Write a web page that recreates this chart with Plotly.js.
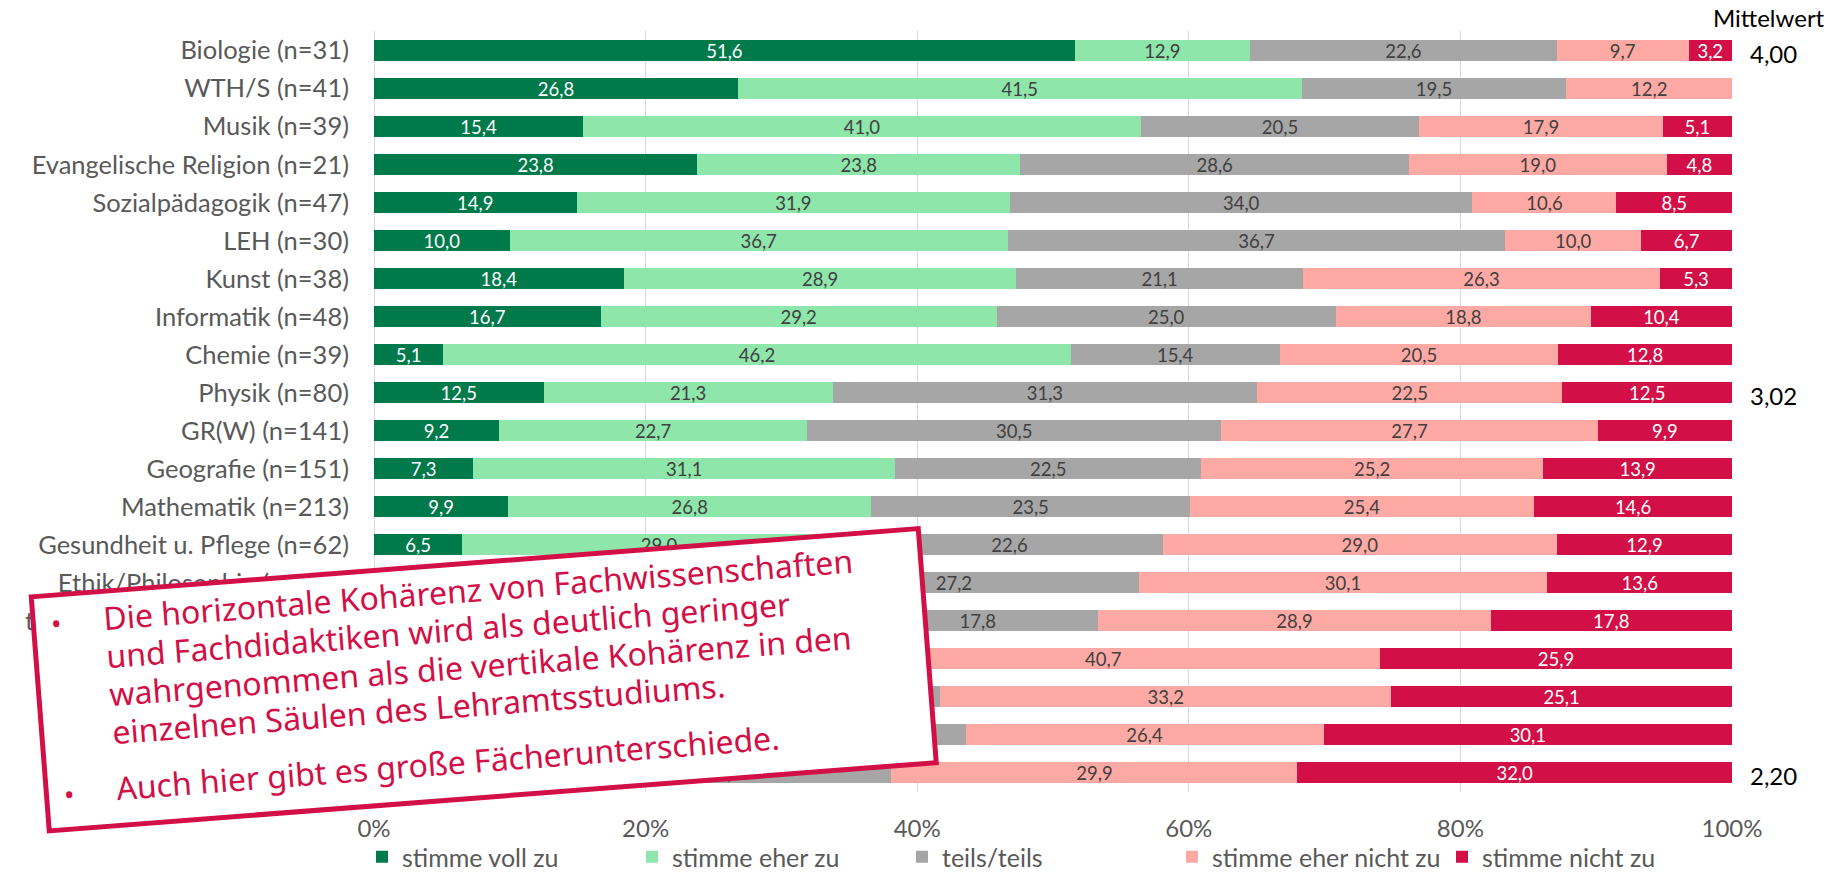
<!DOCTYPE html>
<html>
<head>
<meta charset="utf-8">
<script src="https://cdn.plot.ly/plotly-3.0.1.min.js"></script>
<style>
html,body{margin:0;padding:0;background:#ffffff;}
#chart{width:1839px;height:875px;}
</style>
</head>
<body>
<div id="chart"></div>
<script>
// ---------- data ----------
const categories = [
  "Biologie (n=31)", "WTH/S (n=41)", "Musik (n=39)", "Evangelische Religion (n=21)",
  "Sozialpädagogik (n=47)", "LEH (n=30)", "Kunst (n=38)", "Informatik (n=48)",
  "Chemie (n=39)", "Physik (n=80)", "GR(W) (n=141)", "Geografie (n=151)",
  "Mathematik (n=213)", "Gesundheit u. Pflege (n=62)", "Ethik/Philosophie (n=103)",
  "technisches Gestalten (n=45)", "Russisch (n=27)", "Deutsch (n=187)",
  "Englisch (n=163)", "Geschichte (n=97)"
];
const seriesNames = ["stimme voll zu", "stimme eher zu", "teils/teils", "stimme eher nicht zu", "stimme nicht zu"];
const stimmeVollZu      = [51.6, 26.8, 15.4, 23.8, 14.9, 10.0, 18.4, 16.7,  5.1, 12.5,  9.2,  7.3,  9.9,  6.5,  6.8,  8.9,  3.7,  3.2,  3.1,  0.0];
const stimmeEherZu      = [12.9, 41.5, 41.0, 23.8, 31.9, 36.7, 28.9, 29.2, 46.2, 21.3, 22.7, 31.1, 26.8, 29.0, 22.3, 26.7, 14.8, 16.0, 15.3, 13.4];
const teilsTeils        = [22.6, 19.5, 20.5, 28.6, 34.0, 36.7, 21.1, 25.0, 15.4, 31.3, 30.5, 22.5, 23.5, 22.6, 27.2, 17.8, 14.8, 22.5, 25.2, 24.7];
const stimmeEherNichtZu = [ 9.7, 12.2, 17.9, 19.0, 10.6, 10.0, 26.3, 18.8, 20.5, 22.5, 27.7, 25.2, 25.4, 29.0, 30.1, 28.9, 40.7, 33.2, 26.4, 29.9];
const stimmeNichtZu     = [ 3.2,  0.0,  5.1,  4.8,  8.5,  6.7,  5.3, 10.4, 12.8, 12.5,  9.9, 13.9, 14.6, 12.9, 13.6, 17.8, 25.9, 25.1, 30.1, 32.0];
const meanLabels = ["4,00", "", "", "", "", "", "", "", "", "3,02", "", "", "", "", "", "", "", "", "", "2,20"];
const meanHeader = "Mittelwert";
const xTickVals = [0, 20, 40, 60, 80, 100];
const xTickText = ["0%", "20%", "40%", "60%", "80%", "100%"];
const calloutLines = [
  "Die horizontale Kohärenz von Fachwissenschaften",
  "und Fachdidaktiken wird als deutlich geringer",
  "wahrgenommen als die vertikale Kohärenz in den",
  "einzelnen Säulen des Lehramtsstudiums.",
  "Auch hier gibt es große Fächerunterschiede."
];

// ---------- styles ----------
const seriesValues = [stimmeVollZu, stimmeEherZu, teilsTeils, stimmeEherNichtZu, stimmeNichtZu];
const colors = ["#007A4B", "#8EE6AA", "#A6A6A6", "#FFA9A4", "#D20F46"];
const labelColors = ["#FFFFFF", "#404040", "#404040", "#404040", "#FFFFFF"];
const FONT = "Lato, 'Liberation Sans', sans-serif";
const W = 1839, H = 875;
const M = {l: 374, r: 107, t: 31, b: 83, autoexpand: false};
const PW = W - M.l - M.r, PH = H - M.t - M.b;
const px2x = p => (p - M.l) / PW;
const px2y = p => (H - M.b - p) / PH;

const fmt = v => v > 0 ? v.toFixed(1).replace(".", ",") : "";

const traces = seriesValues.map((vals, i) => ({
  type: "bar",
  orientation: "h",
  name: seriesNames[i],
  y: categories,
  x: vals,
  text: vals.map(fmt),
  texttemplate: "%{text}",
  textposition: "inside",
  insidetextanchor: "middle",
  constraintext: "none",
  textangle: 0,
  textfont: {family: FONT, size: 18.5, color: labelColors[i]},
  marker: {color: colors[i], line: {width: 0}},
  hoverinfo: "skip"
}));

// ---------- callout box geometry (pixels) ----------
const box = {cx: 483.75, cy: 679.75, w: 889.6, h: 234.7, angle: 4.4};
const th = box.angle * Math.PI / 180;
const u = [Math.cos(th), -Math.sin(th)];
const v = [Math.sin(th), Math.cos(th)];
const TL = [box.cx - box.w / 2 * u[0] - box.h / 2 * v[0], box.cy - box.w / 2 * u[1] - box.h / 2 * v[1]];
const loc = (lx, ly) => [TL[0] + lx * u[0] + ly * v[0], TL[1] + lx * u[1] + ly * v[1]];
const corners = [loc(0, 0), loc(box.w, 0), loc(box.w, box.h), loc(0, box.h)];
const pathStr = corners.map((c, i) => (i ? "L" : "M") + px2x(c[0]).toFixed(5) + "," + px2y(c[1]).toFixed(5)).join(" ") + " Z";

const CALLOUT_SIZE = 32;
const CALLOUT_COLOR = "#D20F46";
const lineStartX = 70.5;
const lineBaselines = [38.7, 76.9, 115.3, 153.6, 209.2];
const bulletPos = [[22.7, 28.0], [22.7, 199.8]];
const annW = 880, annH = 52;
const baseToCenter = 0.388 * CALLOUT_SIZE;

const annotations = [];
calloutLines.forEach((t, i) => {
  const p = loc(lineStartX + annW / 2, lineBaselines[i] - baseToCenter);
  annotations.push({
    xref: "paper", yref: "paper", x: px2x(p[0]), y: px2y(p[1]),
    xanchor: "center", yanchor: "middle", width: annW, height: annH,
    align: "left", valign: "middle", borderpad: 0, showarrow: false,
    textangle: -box.angle, text: t,
    font: {family: "'Noto Sans', sans-serif", size: CALLOUT_SIZE, color: CALLOUT_COLOR}
  });
});
bulletPos.forEach(b => {
  const p = loc(b[0], b[1]);
  annotations.push({
    xref: "paper", yref: "paper", x: px2x(p[0]), y: px2y(p[1]),
    xanchor: "center", yanchor: "middle", showarrow: false, borderpad: 0,
    textangle: -box.angle, text: "•",
    font: {family: "'Noto Sans', sans-serif", size: CALLOUT_SIZE - 4, color: CALLOUT_COLOR}
  });
});

// mean values
categories.forEach((c, i) => {
  if (!meanLabels[i]) return;
  annotations.push({
    xref: "paper", yref: "y", x: px2x(1748), y: c, xanchor: "left", yanchor: "middle",
    yshift: -3, showarrow: false, text: meanLabels[i],
    font: {family: FONT, size: 24, color: "#000000"}
  });
});
annotations.push({
  xref: "paper", yref: "paper", x: px2x(1827), y: px2y(18), xanchor: "right", yanchor: "middle",
  showarrow: false, text: meanHeader, font: {family: FONT, size: 24, color: "#000000"}
});

const layout = {
  width: W, height: H,
  margin: M,
  paper_bgcolor: "#ffffff", plot_bgcolor: "#ffffff",
  barmode: "stack", barnorm: "percent", bargap: 0.448,
  font: {family: FONT, color: "#595959"},
  xaxis: {
    range: [0, 100], tickvals: xTickVals, ticktext: xTickText,
    showgrid: true, gridcolor: "#D9D9D9", gridwidth: 1,
    zeroline: true, zerolinecolor: "#D9D9D9", zerolinewidth: 1,
    showline: false, ticks: "", ticklabelstandoff: 20,
    tickfont: {family: FONT, size: 24, color: "#595959"}, fixedrange: true
  },
  yaxis: {
    type: "category", autorange: "reversed", showgrid: false, zeroline: false,
    showline: false, ticks: "", ticklabelstandoff: 24,
    tickfont: {family: FONT, size: 25.5, color: "#595959"}, fixedrange: true
  },
  legend: {
    orientation: "h", x: px2x(362), xanchor: "left", y: px2y(834), yanchor: "top",
    font: {family: FONT, size: 25, color: "#595959"}, traceorder: "normal",
    entrywidth: 225, entrywidthmode: "pixels",
    bgcolor: "rgba(0,0,0,0)"
  },
  shapes: [{
    type: "path", xref: "paper", yref: "paper", path: pathStr, layer: "above",
    fillcolor: "#ffffff", line: {color: CALLOUT_COLOR, width: 5}
  }],
  annotations: annotations
};

Plotly.newPlot("chart", traces, layout, {displayModeBar: false, staticPlot: true});
</script>
</body>
</html>
